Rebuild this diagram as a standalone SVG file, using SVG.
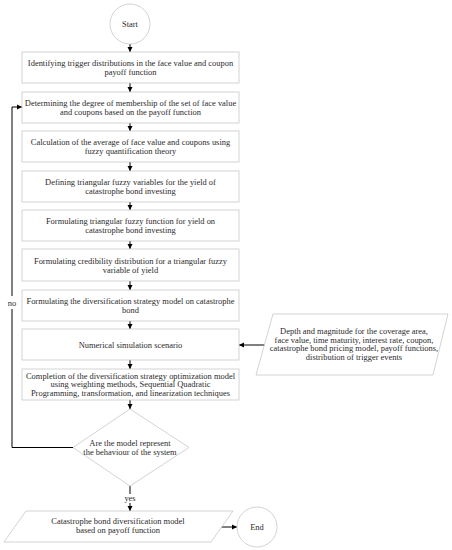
<svg xmlns="http://www.w3.org/2000/svg" width="452" height="550" viewBox="0 0 452 550">
<defs>
<marker id="ah" markerWidth="6" markerHeight="6" refX="5" refY="3" orient="auto" markerUnits="userSpaceOnUse">
<path d="M0,0.5 L5,3 L0,5.5 Z" fill="#000"/>
</marker>
<style>
.box{fill:#fff;stroke:#c8c8c8;stroke-width:0.8}
.t{font-family:"Liberation Serif","Times New Roman",serif;font-size:8.45px;fill:#2a2a2a;text-anchor:middle}
.c{fill:none;stroke:#000;stroke-width:1}
</style>
</defs>
<rect width="452" height="550" fill="#fff"/>
<g id="connectors">
<line class="c" x1="130" y1="44" x2="130" y2="52" marker-end="url(#ah)"/>
<line class="c" x1="130" y1="83" x2="130" y2="92" marker-end="url(#ah)"/>
<line class="c" x1="130" y1="123" x2="130" y2="131" marker-end="url(#ah)"/>
<line class="c" x1="130" y1="162" x2="130" y2="171" marker-end="url(#ah)"/>
<line class="c" x1="130" y1="202" x2="130" y2="210" marker-end="url(#ah)"/>
<line class="c" x1="130" y1="241" x2="130" y2="249" marker-end="url(#ah)"/>
<line class="c" x1="130" y1="281" x2="130" y2="290" marker-end="url(#ah)"/>
<line class="c" x1="130" y1="321" x2="130" y2="329" marker-end="url(#ah)"/>
<line class="c" x1="130" y1="360" x2="130" y2="369" marker-end="url(#ah)"/>
<line class="c" x1="130" y1="400" x2="130" y2="409" marker-end="url(#ah)"/>
<line class="c" x1="266" y1="345" x2="239" y2="345" marker-end="url(#ah)"/>
<line class="c" x1="130" y1="486" x2="130" y2="494"/>
<line class="c" x1="130" y1="503" x2="130" y2="511" marker-end="url(#ah)"/>
<line class="c" x1="221" y1="527" x2="237" y2="527" marker-end="url(#ah)"/>
<polyline class="c" points="73,447.5 12,447.5 12,309"/>
<polyline class="c" points="12,296 12,107 22,107" marker-end="url(#ah)"/>
<text class="t" x="12" y="305.5">no</text>
<text class="t" x="130" y="500.8">yes</text>
</g>
<g id="start">
<circle cx="130" cy="24" r="20" fill="#fff" stroke="#c8c8c8" stroke-width="0.8"/>
<text class="t" x="130" y="26.8">Start</text>
</g>
<g id="n1">
<rect class="box" x="22" y="52" width="217" height="31"/>
<text class="t" x="130.5" y="66.2">Identifying trigger distributions in the face value and coupon</text>
<text class="t" x="130.5" y="75">payoff function</text>
</g>
<g id="n2">
<rect class="box" x="22" y="92" width="217" height="31"/>
<text class="t" x="130.5" y="105.7">Determining the degree of membership of the set of face value</text>
<text class="t" x="130.5" y="114.5">and coupons based on the payoff function</text>
</g>
<g id="n3">
<rect class="box" x="22" y="131" width="217" height="31"/>
<text class="t" x="130.5" y="145.2">Calculation of the average of face value and coupons using</text>
<text class="t" x="130.5" y="154">fuzzy quantification theory</text>
</g>
<g id="n4">
<rect class="box" x="22" y="171" width="217" height="31"/>
<text class="t" x="130.5" y="184.7">Defining triangular fuzzy variables for the yield of</text>
<text class="t" x="130.5" y="193.5">catastrophe bond investing</text>
</g>
<g id="n5">
<rect class="box" x="22" y="210" width="217" height="31"/>
<text class="t" x="130.5" y="224.2">Formulating triangular fuzzy function for yield on</text>
<text class="t" x="130.5" y="233">catastrophe bond investing</text>
</g>
<g id="n6">
<rect class="box" x="22" y="249" width="217" height="32"/>
<text class="t" x="130.5" y="263.7">Formulating credibility distribution for a triangular fuzzy</text>
<text class="t" x="130.5" y="272.5">variable of yield</text>
</g>
<g id="n7">
<rect class="box" x="22" y="290" width="217" height="31"/>
<text class="t" x="130.5" y="303.7">Formulating the diversification strategy model on catastrophe</text>
<text class="t" x="130.5" y="312.5">bond</text>
</g>
<g id="n8">
<rect class="box" x="22" y="329" width="217" height="31"/>
<text class="t" x="130.5" y="347.5">Numerical simulation scenario</text>
</g>
<g id="n9">
<rect class="box" x="22" y="369" width="217" height="31"/>
<text class="t" x="130.5" y="378.7">Completion of the diversification strategy optimization model</text>
<text class="t" x="130.5" y="387.4">using weighting methods, Sequential Quadratic</text>
<text class="t" x="130.5" y="396.1">Programming, transformation, and linearization techniques</text>
</g>
<g id="input">
<polygon class="box" points="273,314 448,314 433,375 256,375"/>
<text class="t" x="354" y="333.7">Depth and magnitude for the coverage area,</text>
<text class="t" x="354" y="342.5">face value, time maturity, interest rate, coupon,</text>
<text class="t" x="354" y="351.3">catastrophe bond pricing model, payoff functions,</text>
<text class="t" x="354" y="360.1">distribution of trigger events</text>
</g>
<g id="decision">
<polygon class="box" points="130,409 189,447.5 130,486 73,447.5"/>
<text class="t" x="130" y="445.8">Are the model represent</text>
<text class="t" x="130" y="454.8">the behaviour of the system</text>
</g>
<g id="output">
<polygon class="box" points="26,511 233,511 211,542 4,542"/>
<text class="t" x="118" y="523.8">Catastrophe bond diversification model</text>
<text class="t" x="118" y="532.8">based on payoff function</text>
</g>
<g id="end">
<circle cx="257" cy="527" r="20" fill="#fff" stroke="#c8c8c8" stroke-width="0.8"/>
<text class="t" x="257" y="529.8">End</text>
</g>
</svg>
